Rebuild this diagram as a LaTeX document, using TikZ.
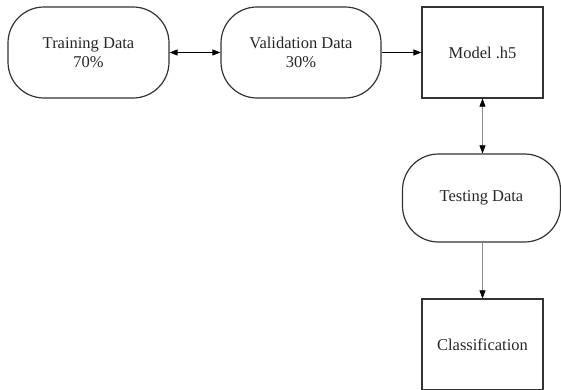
\documentclass[tikz,border=0pt]{standalone}
\usepackage{fontspec}
\setmainfont{Liberation Serif}
\usetikzlibrary{arrows.meta}
\begin{document}
\begin{tikzpicture}[x=1pt,y=-1pt,
  every node/.style={font=\fontsize{16.5}{19}\selectfont, text=black!85, align=center, inner sep=0pt},
  terminal/.style={draw=black!80, line width=1.2pt, rounded corners=36pt, minimum height=91pt},
  procbox/.style={draw=black!80, line width=1.2pt, minimum width=121pt, minimum height=91pt},
  flow/.style={line width=0.9pt, black, -{Triangle[length=8pt,width=6pt]}},
  biflow/.style={line width=0.9pt, black, {Triangle[length=8pt,width=6pt]}-{Triangle[length=8pt,width=6pt]}},
  thinflow/.style={line width=0.5pt, black!45, -{Triangle[length=8pt,width=6pt,fill=black,color=black]}},
  thinbiflow/.style={line width=0.5pt, black!45, {Triangle[length=8pt,width=6pt,fill=black,color=black]}-{Triangle[length=8pt,width=6pt,fill=black,color=black]}}
]
\useasboundingbox (0,0) rectangle (561,390);

\node[terminal, minimum width=161pt] (train) at (88.5,52.5) {Training Data\\70\%};
\node[terminal, minimum width=160pt] (valid) at (301,52.5) {Validation Data\\30\%};
\node[procbox] (model) at (482.5,52.5) {Model .h5};
\node[terminal, minimum width=158pt, minimum height=88pt] (test) at (481.5,198) {Testing Data};
\node[procbox, minimum height=91pt] (class) at (482.5,344.5) {Classification};

\draw[biflow] (train) -- (valid);
\draw[flow] (valid) -- (model);
\draw[thinbiflow] (model.south) -- (model.south |- test.north);
\draw[thinflow] (class.north |- test.south) -- (class.north);
\end{tikzpicture}
\end{document}
